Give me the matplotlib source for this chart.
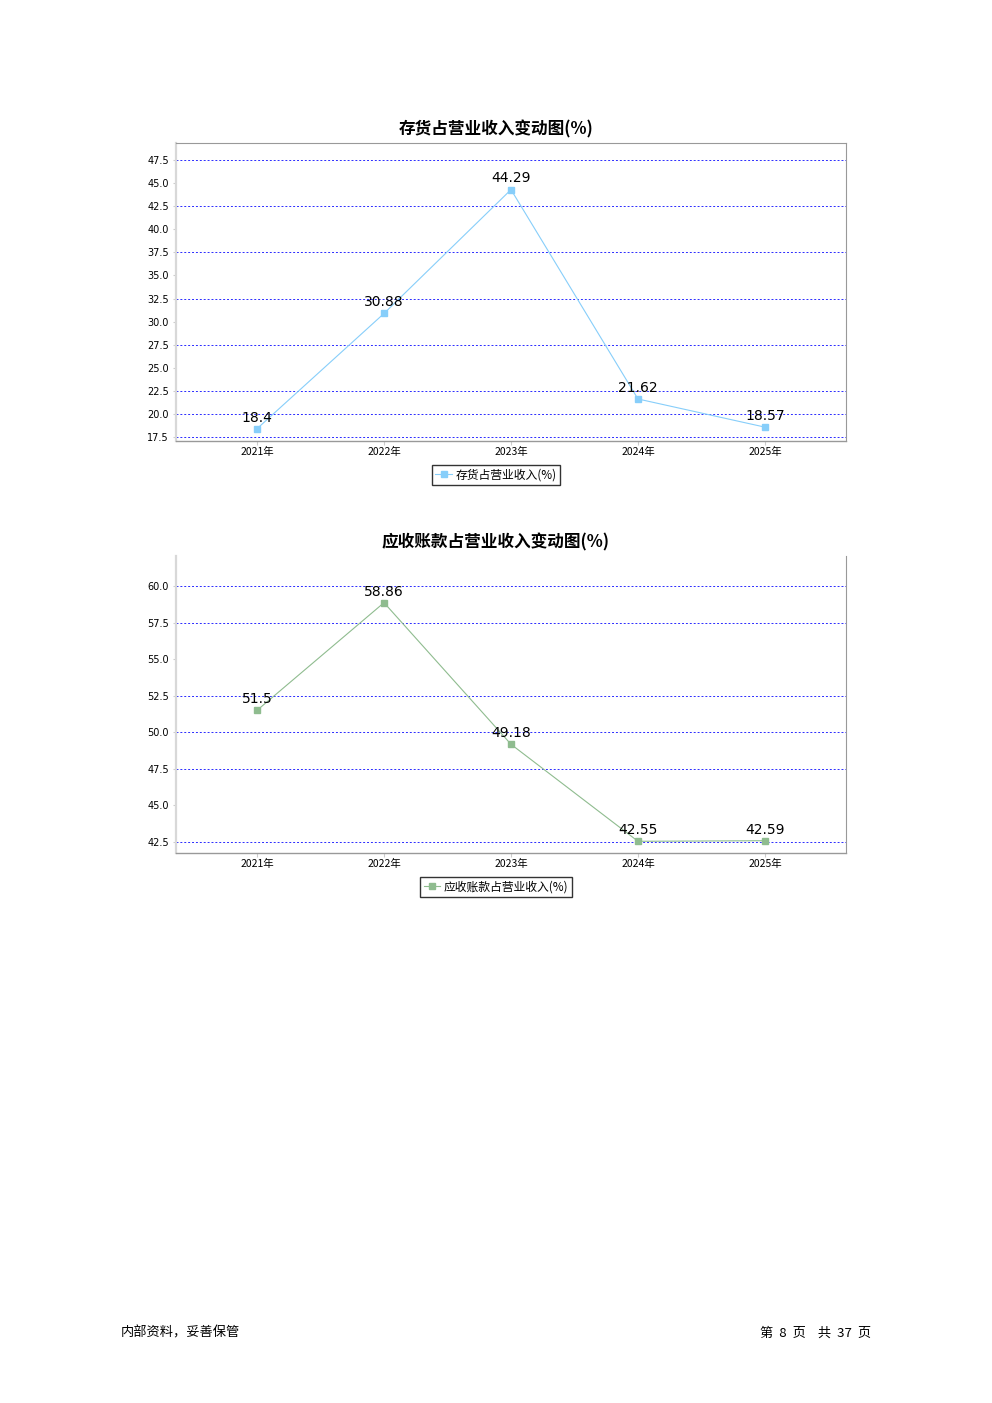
import matplotlib

matplotlib.use("Agg")
import matplotlib.pyplot as plt
from matplotlib.lines import Line2D

plt.rcParams["font.family"] = ["Noto Sans CJK SC", "DejaVu Sans"]

years = ["2021年", "2022年", "2023年", "2024年", "2025年"]
inventory = [18.4, 30.88, 44.29, 21.62, 18.57]
receivables = [51.5, 58.86, 49.18, 42.55, 42.59]

inv_ticks = [17.5, 20.0, 22.5, 25.0, 27.5, 30.0, 32.5, 35.0, 37.5, 40.0, 42.5, 45.0, 47.5]
inv_grid = [17.5, 20.0, 22.5, 27.5, 32.5, 37.5, 42.5, 47.5]
rec_ticks = [42.5, 45.0, 47.5, 50.0, 52.5, 55.0, 57.5, 60.0]
rec_grid = [42.5, 47.5, 50.0, 52.5, 57.5, 60.0]

W, H = 992, 1403
fig = plt.figure(figsize=(W / 100, H / 100), dpi=100)


def draw(rect, values, ticks, grid, ylim, color, title, title_y, legend_label, legend_y, top_border=True):
    ax = fig.add_axes(rect)
    x = list(range(len(values)))
    ax.plot(x, values, color=color, lw=0.8, marker="s", ms=5, mec=color, mfc=color, zorder=3)
    for xi, v in zip(x, values):
        ax.annotate(f"{v:g}", (xi, v), xytext=(0, 3), textcoords="offset points",
                    ha="center", va="bottom", fontsize=10, family="DejaVu Sans", zorder=4)
    for g in grid:
        ax.axhline(g, color="#2b2bff", lw=0.7, ls=(0, (2, 2)), zorder=1)
    ax.set_xlim(-0.638, len(values) - 1 + 0.638)
    ax.set_ylim(*ylim)
    ax.set_xticks(x)
    ax.set_xticklabels(years, fontsize=7.5)
    ax.set_yticks(ticks)
    ax.set_yticklabels([f"{t:.1f}" for t in ticks], fontsize=7, family="DejaVu Sans")
    ax.tick_params(axis="x", length=3, color="#cccccc", pad=1)
    ax.tick_params(axis="y", length=2, color="#cccccc", pad=3)
    ax.spines["left"].set_color("#d8d8d8")
    ax.spines["left"].set_linewidth(1.6)
    ax.spines["bottom"].set_color("#999999")
    ax.spines["bottom"].set_linewidth(1.0)
    ax.spines["right"].set_color("#999999")
    ax.spines["right"].set_linewidth(0.8)
    ax.spines["top"].set_color("#999999")
    ax.spines["top"].set_linewidth(0.8)
    ax.spines["top"].set_visible(top_border)
    fig.text(496 / W, 1 - title_y / H, title, ha="center", va="center",
             fontsize=12, fontweight="bold")
    handle = Line2D([], [], color=color, lw=0.8, marker="s", ms=5, mec=color, mfc=color)
    fig.legend([handle], [legend_label], loc="center", bbox_to_anchor=(496 / W, 1 - legend_y / H),
               fontsize=8.5, frameon=True, fancybox=False, edgecolor="black",
               handlelength=1.4, handletextpad=0.3, borderpad=0.3, borderaxespad=0)
    return ax


draw([176 / W, 1 - 441 / H, 670 / W, 298 / H], inventory, inv_ticks, inv_grid, (17.07, 49.34),
     "#87cefa", "存货占营业收入变动图(%)", 129, "存货占营业收入(%)", 475)
draw([176 / W, 1 - 853 / H, 670 / W, 297 / H], receivables, rec_ticks, rec_grid, (41.75, 62.05),
     "#8fbc8f", "应收账款占营业收入变动图(%)", 542, "应收账款占营业收入(%)", 887, top_border=False)

fig.text(121 / W, 1 - 1333 / H, "内部资料，妥善保管", ha="left", va="center", fontsize=9.5)
fig.text(871 / W, 1 - 1333 / H, "第  8  页    共  37  页", ha="right", va="center", fontsize=9.5,
         family=["Noto Sans CJK SC", "DejaVu Sans"])

fig.savefig("out.png", dpi=100)
